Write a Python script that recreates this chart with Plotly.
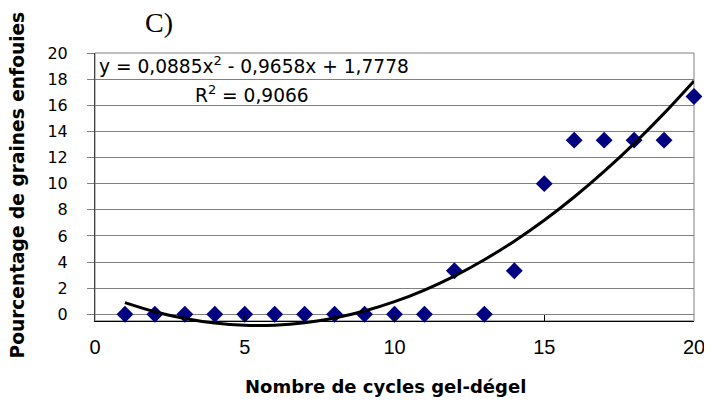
import plotly.graph_objects as go

cycles = list(range(1, 21))
pct_enfouies = [0, 0, 0, 0, 0, 0, 0, 0, 0, 0, 0, 3.33, 0, 3.33, 10, 13.33, 13.33, 13.33, 13.33, 16.67]
trend_x = list(range(1, 21))
trend_y = [0.9, 0.2, -0.32, -0.67, -0.84, -0.83, -0.65, -0.28, 0.25, 0.97,
           1.86, 2.93, 4.18, 5.6, 7.2, 8.98, 10.94, 13.07, 15.38, 17.86]
x_ticks = [0, 5, 10, 15, 20]
y_ticks = list(range(0, 21, 2))

y_main = [-0.5, 20]
y_over = [-1.2, 20]   # overlay axis (same scale) so the trend line can dip below the frame
d0 = ((y_over[1] - y_over[0]) - (y_main[1] - y_main[0])) / (y_over[1] - y_over[0])

fig = go.Figure()
fig.add_trace(go.Scatter(x=cycles, y=pct_enfouies, mode="markers",
                         marker=dict(symbol="diamond", size=13, color="#000080"),
                         showlegend=False, cliponaxis=False, xaxis="x", yaxis="y"))
fig.add_trace(go.Scatter(x=trend_x, y=trend_y, mode="lines",
                         line=dict(color="black", width=3, shape="spline"),
                         showlegend=False, xaxis="x2", yaxis="y2"))

fig.update_layout(
    width=704, height=393,
    margin=dict(l=87, r=18, t=45, b=71),
    paper_bgcolor="white", plot_bgcolor="rgba(0,0,0,0)",
    font=dict(family="DejaVu Sans", size=16, color="black"),
    xaxis=dict(range=[0, 20], tickvals=x_ticks, ticks="inside", ticklen=6,
               tickcolor="black", showgrid=False, zeroline=False,
               showline=True, linecolor="black", linewidth=1,
               ticklabelstandoff=8, anchor="y", automargin=False,
               tickfont=dict(family="Liberation Sans, Arial", size=20)),
    yaxis=dict(range=y_main, domain=[d0, 1], tickvals=y_ticks, ticks="outside", ticklen=7,
               tickcolor="#808080", showgrid=True, gridcolor="#808080", gridwidth=1,
               zeroline=False, showline=True, linecolor="#404040", linewidth=1,
               ticklabelstandoff=16, anchor="x", automargin=False,
               tickfont=dict(family="DejaVu Sans", size=16)),
    xaxis2=dict(range=[0, 20], visible=False, anchor="y2", domain=[0, 1], automargin=False),
    yaxis2=dict(range=y_over, visible=False, anchor="x2", domain=[0, 1], automargin=False),
    shapes=[dict(type="rect", xref="x domain", yref="y domain", x0=0, x1=1, y0=0, y1=1,
                 line=dict(color="#808080", width=1), layer="below")],
    annotations=[
        dict(text="C)", xref="paper", yref="paper", x=0, xshift=64, y=1.0, yshift=31,
             xanchor="center", yanchor="middle", showarrow=False,
             font=dict(family="Liberation Serif, Times New Roman", size=28)),
        dict(text="y = 0,0885x<sup>2</sup> - 0,9658x + 1,7778", xref="paper", yref="y",
             x=0, xshift=2, y=19.07, xanchor="left", yanchor="middle", showarrow=False,
             font=dict(family="DejaVu Sans", size=18.6)),
        dict(text="R<sup>2</sup> = 0,9066", xref="paper", yref="y",
             x=0, xshift=157, y=16.9, xanchor="center", yanchor="middle", showarrow=False,
             font=dict(family="DejaVu Sans", size=18.6)),
        dict(text="<b>Nombre de cycles gel-dégel</b>", xref="paper", yref="paper",
             x=0, xshift=290, y=0, yshift=-56, xanchor="center", yanchor="middle",
             showarrow=False, font=dict(family="DejaVu Sans", size=18)),
        dict(text="<b>Pourcentage de graines enfouies</b>", xref="paper", yref="paper",
             x=0, xshift=-78, y=0.5, yshift=6, xanchor="center", yanchor="middle", textangle=-90,
             showarrow=False, font=dict(family="DejaVu Sans", size=18.6)),
    ],
)

fig.write_html("out.html", default_width="704px", default_height="393px")
